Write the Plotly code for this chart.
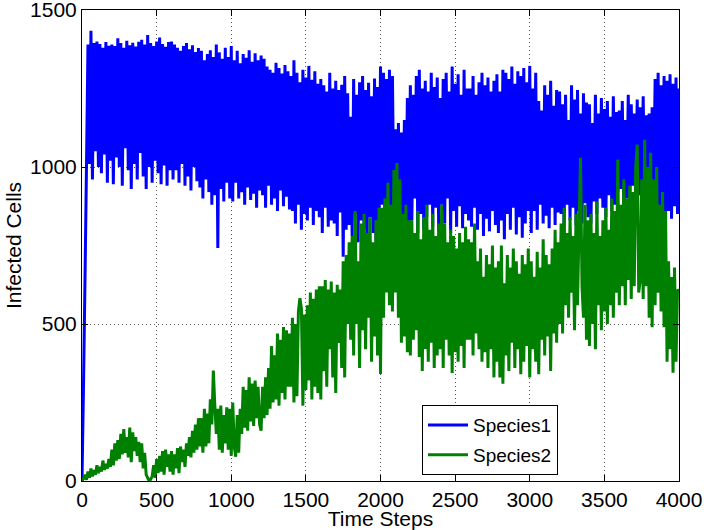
import plotly.graph_objects as go

# Time axis: one reading every 10 time steps, 0..4000
time_steps = list(range(0, 4001, 10))

species1 = [
    0, 300, 640, 1000, 1390, 1010, 1434, 960, 1395, 1050, 1400, 1000, 1392, 980, 1380, 1040, 1398, 950, 1386, 1020,
    1390, 945, 1385, 1030, 1410, 1000, 1395, 940, 1380, 1060, 1402, 990, 1388, 930, 1396, 1010, 1384, 960, 1399, 1045,
    1405, 970, 1390, 930, 1420, 1000, 1395, 950, 1385, 1020, 1400, 980, 1412, 945, 1392, 1005, 1383, 940, 1398, 990,
    1400, 960, 1390, 990, 1380, 950, 1370, 1010, 1385, 940, 1395, 970, 1375, 925, 1388, 1000, 1366, 955, 1379, 935,
    1370, 900, 1340, 960, 1360, 920, 1372, 880, 1350, 910, 1390, 742, 1365, 930, 1345, 890, 1380, 950, 1350, 900,
    1385, 890, 1340, 950, 1370, 900, 1330, 920, 1360, 880, 1348, 935, 1372, 895, 1335, 915, 1362, 870, 1340, 925,
    1355, 910, 1345, 870, 1320, 940, 1310, 880, 1300, 900, 1332, 860, 1315, 925, 1298, 875, 1325, 905, 1305, 865,
    1290, 860, 1340, 820, 1300, 880, 1270, 800, 1310, 850, 1285, 830, 1322, 870, 1278, 815, 1305, 860, 1265, 840,
    1280, 790, 1260, 870, 1240, 810, 1300, 830, 1250, 820, 1275, 780, 1245, 855, 1262, 714, 1290, 800, 1235, 815,
    1160, 780, 1280, 850, 1230, 760, 1270, 830, 1290, 800, 1245, 775, 1268, 840, 1225, 790, 1282, 765, 1255, 820,
    1320, 880, 1300, 780, 1280, 820, 1310, 800, 1290, 850, 1120, 800, 1140, 860, 1110, 790, 1150, 830, 1220, 810,
    1260, 830, 1230, 900, 1290, 790, 1310, 850, 1250, 800, 1275, 840, 1240, 880, 1300, 810, 1255, 870, 1285, 795,
    1220, 880, 1280, 820, 1300, 900, 1240, 790, 1320, 860, 1265, 810, 1295, 875, 1230, 805, 1310, 850, 1250, 830,
    1250, 810, 1290, 870, 1230, 800, 1270, 850, 1300, 780, 1260, 835, 1285, 795, 1240, 860, 1275, 815, 1295, 790,
    1240, 830, 1310, 770, 1300, 850, 1280, 800, 1320, 870, 1265, 785, 1305, 840, 1290, 775, 1315, 820, 1270, 860,
    1322, 790, 1250, 860, 1300, 800, 1210, 880, 1180, 820, 1260, 845, 1230, 805, 1275, 870, 1195, 815, 1245, 855,
    1240, 850, 1200, 800, 1230, 880, 1150, 830, 1260, 870, 1215, 815, 1245, 860, 1170, 820, 1235, 885, 1205, 840,
    1200, 820, 1140, 890, 1230, 850, 1170, 900, 1220, 870, 1185, 840, 1210, 910, 1160, 860, 1225, 880, 1175, 920,
    1180, 930, 1210, 860, 1150, 900, 1230, 850, 1200, 940, 1170, 880, 1215, 910, 1190, 870, 1225, 895, 1165, 935,
    1170, 880, 1190, 910, 1280, 850, 1300, 830, 1260, 870, 1290, 845, 1275, 860, 1295, 835, 1265, 875, 1285, 850,
    1250,
]

species2 = [
    0, 8, 20, 4, 30, 10, 40, 15, 35, 20, 50, 25, 45, 30, 65, 35, 55, 40, 70, 45,
    100, 50, 120, 65, 130, 70, 150, 85, 165, 90, 140, 75, 170, 60, 155, 95, 140, 80, 125, 60,
    120, 40, 90, 20, 10, 0, 5, 15, 50, 10, 70, 25, 80, 30, 95, 20, 100, 45, 85, 30,
    95, 20, 85, 40, 105, 25, 110, 60, 100, 45, 120, 80, 140, 75, 160, 90, 180, 100, 200, 110,
    200, 90, 230, 110, 215, 120, 260, 180, 352, 240, 150, 230, 100, 240, 90, 210, 120, 235, 100, 230,
    80, 250, 110, 77, 210, 90, 230, 150, 300, 170, 290, 160, 330, 190, 310, 175, 320, 200, 300, 180,
    160, 300, 200, 330, 210, 360, 230, 430, 250, 400, 260, 470, 240, 450, 280, 490, 260, 480, 300, 470,
    300, 520, 250, 500, 270, 540, 582, 550, 240, 530, 290, 560, 320, 600, 260, 580, 300, 610, 280, 620,
    260, 620, 350, 640, 300, 610, 420, 635, 330, 600, 280, 625, 440, 610, 360, 700, 330, 720, 500, 760,
    450, 780, 400, 860, 500, 700, 360, 820, 480, 850, 420, 790, 520, 840, 380, 760, 460, 830, 400, 870,
    341, 870, 520, 900, 600, 950, 560, 880, 540, 990, 600, 1013, 520, 960, 440, 850, 460, 880, 410, 830,
    400, 830, 450, 790, 480, 860, 395, 770, 350, 840, 420, 880, 380, 800, 440, 850, 360, 780, 400, 820,
    420, 880, 360, 820, 450, 760, 400, 800, 344, 780, 410, 740, 380, 790, 430, 760, 360, 810, 450, 770,
    450, 760, 400, 820, 470, 700, 420, 740, 380, 650, 410, 720, 360, 690, 420, 750, 330, 680, 380, 700,
    330, 750, 310, 630, 400, 720, 350, 680, 440, 740, 360, 700, 420, 660, 340, 720, 380, 690, 430, 740,
    330, 700, 420, 650, 380, 730, 340, 680, 450, 770, 400, 720, 460, 690, 350, 740, 470, 800, 440, 760,
    500, 820, 470, 870, 560, 790, 520, 840, 600, 780, 480, 850, 560, 800, 1029, 620, 520, 880, 450, 830,
    430, 850, 500, 790, 420, 890, 560, 780, 480, 830, 540, 870, 500, 800, 560, 900, 520, 860, 600, 1024,
    560, 880, 620, 960, 560, 900, 640, 940, 580, 920, 620, 1000, 1071, 600, 640, 960, 580, 1087, 620, 1000,
    520, 1045, 490, 960, 560, 1000, 600, 880, 540, 920, 490, 860, 380, 700, 420, 650, 345, 680, 380, 610,
    600,
]

assert len(species1) == len(time_steps), len(species1)
assert len(species2) == len(time_steps), len(species2)

series_names = ["Species1", "Species2"]
series_colors = ["#0000FF", "#008000"]

x_ticks = [0, 500, 1000, 1500, 2000, 2500, 3000, 3500, 4000]
y_ticks = [0, 500, 1000, 1500]

FONT = "Liberation Sans, Arial, Helvetica, sans-serif"

fig = go.Figure()
for name, values, color in zip(series_names, [species1, species2], series_colors):
    fig.add_trace(go.Scatter(
        x=time_steps, y=values, mode="lines", name=name, legendgroup=name,
        line=dict(color=color, width=3, simplify=False),
    ))

axis_common = dict(
    showline=True, linecolor="black", linewidth=1, mirror="ticks",
    ticks="inside", ticklen=6, tickcolor="black", tickwidth=1,
    showgrid=True, gridcolor="#555555", gridwidth=1, griddash="1px,3px",
    zeroline=False, automargin=False, ticklabeloverflow="allow",
    tickfont=dict(family=FONT, size=21, color="black"),
)

fig.update_layout(
    width=704, height=530,
    margin=dict(l=82, r=25, t=10, b=49),
    paper_bgcolor="white", plot_bgcolor="white",
    font=dict(family=FONT, size=21, color="black"),
    xaxis=dict(
        range=[0, 4000], tickvals=x_ticks,
        title=dict(text="Time Steps", standoff=1, font=dict(size=21)),
        **axis_common,
    ),
    yaxis=dict(
        range=[0, 1500], tickvals=y_ticks,
        title=dict(text="Infected Cells", standoff=2, font=dict(size=21)),
        **axis_common,
    ),
    legend=dict(
        x=0.5695, y=0.161, xanchor="left", yanchor="top",
        bgcolor="white", bordercolor="black", borderwidth=1,
        font=dict(family=FONT, size=19, color="black"),
        itemwidth=40, tracegroupgap=2,
        entrywidth=94, entrywidthmode="pixels",
    ),
    showlegend=True,
)

fig.write_html(
    "out.html",
    config={"displayModeBar": False},
    post_script="document.body.style.margin='0';document.body.style.padding='0';",
)
